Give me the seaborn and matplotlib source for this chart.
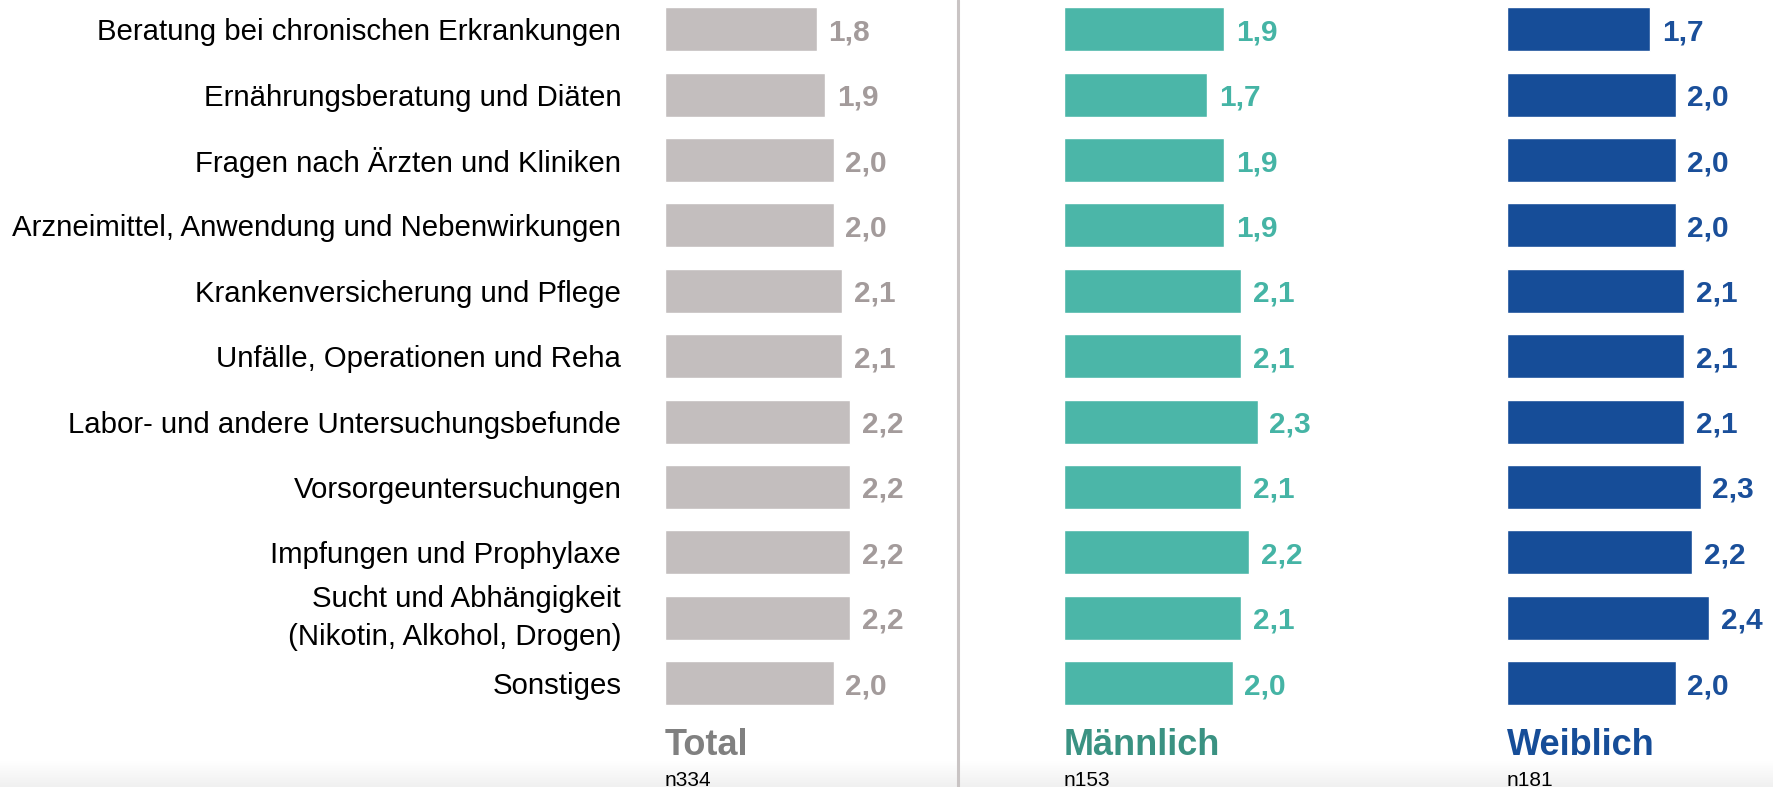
import numpy as np
import pandas as pd
import matplotlib
matplotlib.use("Agg")
import matplotlib.pyplot as plt
from matplotlib.lines import Line2D
import seaborn as sns

categories = [
    "Beratung bei chronischen Erkrankungen",
    "Ernährungsberatung und Diäten",
    "Fragen nach Ärzten und Kliniken",
    "Arzneimittel, Anwendung und Nebenwirkungen",
    "Krankenversicherung und Pflege",
    "Unfälle, Operationen und Reha",
    "Labor- und andere Untersuchungsbefunde",
    "Vorsorgeuntersuchungen",
    "Impfungen und Prophylaxe",
    "Sucht und Abhängigkeit\n(Nikotin, Alkohol, Drogen)",
    "Sonstiges",
]
total = [1.8, 1.9, 2.0, 2.0, 2.1, 2.1, 2.2, 2.2, 2.2, 2.2, 2.0]
maennlich = [1.9, 1.7, 1.9, 1.9, 2.1, 2.1, 2.3, 2.1, 2.2, 2.1, 2.0]
weiblich = [1.7, 2.0, 2.0, 2.0, 2.1, 2.1, 2.1, 2.3, 2.2, 2.4, 2.0]
group_titles = ["Total", "Männlich", "Weiblich"]
group_n = ["n334", "n153", "n181"]

sns.set_theme(style="white")
plt.rcParams["font.family"] = ["Liberation Sans", "DejaVu Sans"]

W, H = 1773, 787
fig = plt.figure(figsize=(W / 100, H / 100), dpi=100)

# background gradient at the bottom
gax = fig.add_axes([0, 0, 1, 26 / H], zorder=-5)
grad = np.linspace(0, 1, 50)[:, None]
gax.imshow(grad, aspect="auto", cmap=matplotlib.colors.LinearSegmentedColormap.from_list(
    "g", ["#f0f0f0", "#ffffff"]), extent=[0, 1, 0, 1], origin="lower")
gax.axis("off")

series = [total, maennlich, weiblich]
bar_colors = ["#c3bebe", "#4bb6a8", "#164d98"]
val_colors = ["#a39b9b", "#45b4a5", "#1a4f9a"]
title_colors = ["#808080", "#3a9282", "#164d98"]
lefts = [665, 1064, 1507]

px_per_unit = 84.3
xmax = 3.2
ax_w = xmax * px_per_unit
pitch = 65.4
c0 = 29.2
top_px = c0 - pitch / 2
bot_px = c0 + pitch * 10 + pitch / 2

for k, (vals, left) in enumerate(zip(series, lefts)):
    ax = fig.add_axes([left / W, 1 - bot_px / H, ax_w / W, (bot_px - top_px) / H])
    df = pd.DataFrame({"cat": categories, "val": vals})
    sns.barplot(data=df, x="val", y="cat", color=bar_colors[k], saturation=1,
                width=0.67, ax=ax, orient="h")
    ax.set_xlim(0, xmax)
    ax.set_ylim(10.5, -0.5)
    ax.set_xlabel("")
    ax.set_ylabel("")
    ax.set_xticks([])
    for s in ax.spines.values():
        s.set_visible(False)
    ax.patch.set_alpha(0)
    labels = [f"{v:.1f}".replace(".", ",") for v in vals]
    anns = ax.bar_label(ax.containers[0], labels=labels, padding=8.3,
                        fontsize=21.5, fontweight="bold", color=val_colors[k])
    for a in anns:
        a.set_va("center_baseline")
    if k == 0:
        ax.tick_params(axis="y", length=0, pad=31.5, labelsize=21.2, labelcolor="#000000")
        for t in ax.get_yticklabels():
            if "\n" in t.get_text():
                t.set_linespacing(1.45)
                t.set_va("center")
    else:
        ax.set_yticks([])
    fig.text(left / W, (H - 755) / H, group_titles[k], fontsize=26, fontweight="bold",
             color=title_colors[k], ha="left", va="baseline")
    fig.text(left / W, (H - 786) / H, group_n[k], fontsize=15, color="#000000",
             ha="left", va="baseline")

fig.add_artist(Line2D([958 / W, 958 / W], [0, 1], color="#c9c4c4", linewidth=2.2,
                      transform=fig.transFigure))

fig.savefig("out.png", dpi=100, facecolor="white")
